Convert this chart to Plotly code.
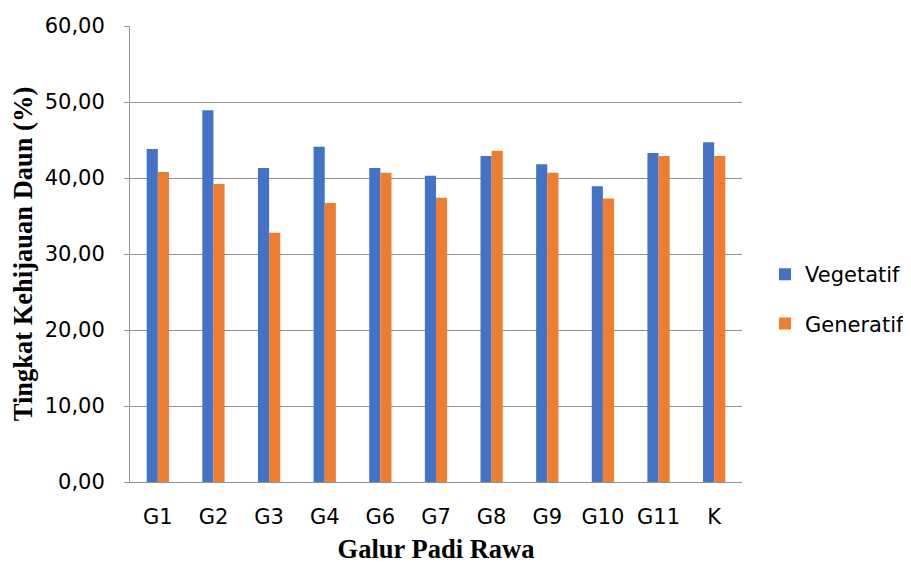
import plotly.graph_objects as go

categories = ["G1", "G2", "G3", "G4", "G6", "G7", "G8", "G9", "G10", "G11", "K"]
vegetatif = [43.8, 48.9, 41.3, 44.1, 41.3, 40.3, 42.9, 41.8, 38.9, 43.3, 44.7]
generatif = [40.8, 39.2, 32.8, 36.7, 40.7, 37.4, 43.6, 40.7, 37.3, 42.9, 42.9]
y_ticks = [0, 10, 20, 30, 40, 50, 60]
y_tick_labels = ["0,00", "10,00", "20,00", "30,00", "40,00", "50,00", "60,00"]

fig = go.Figure()
fig.add_trace(go.Bar(x=categories, y=vegetatif, name="Vegetatif",
                     marker=dict(color="#4472C4", line=dict(width=0)),
                     legendgroup="a"))
fig.add_trace(go.Bar(x=categories, y=generatif, name="Generatif",
                     marker=dict(color="#ED7D31", line=dict(width=0)),
                     legendgroup="b"))

tick_font = dict(family="DejaVu Sans, sans-serif", size=21, color="#000000")
title_font = dict(family="Liberation Serif, Times New Roman, serif", size=26.5, color="#000000")
grid = "#939393"

fig.update_layout(
    width=911, height=564,
    paper_bgcolor="white", plot_bgcolor="white",
    margin=dict(l=122, r=177, t=18, b=90, autoexpand=False),
    barmode="group", bargap=0.6, bargroupgap=0,
    showlegend=True,
    legend=dict(x=1.0376, y=0.401, xanchor="left", yanchor="middle",
                font=tick_font, tracegroupgap=19, itemwidth=30,
                bgcolor="rgba(0,0,0,0)"),
    xaxis=dict(
        title=dict(text="<b>Galur Padi Rawa</b>", font=title_font, standoff=11),
        tickfont=tick_font, showgrid=False, showline=True, automargin=False,
        linecolor=grid, linewidth=1, ticks="", ticklabelstandoff=16,
    ),
    yaxis=dict(
        title=dict(text="<b>Tingkat Kehijauan Daun (%)</b>", font=title_font, standoff=4),
        range=[0, 60], tickvals=y_ticks, ticktext=y_tick_labels,
        tickfont=tick_font, showgrid=True, gridcolor=grid, gridwidth=1,
        showline=True, linecolor=grid, linewidth=1, automargin=False,
        ticks="outside", ticklen=5, tickcolor=grid, ticklabelstandoff=15,
        zeroline=False,
    ),
)

fig.write_html("out.html")
